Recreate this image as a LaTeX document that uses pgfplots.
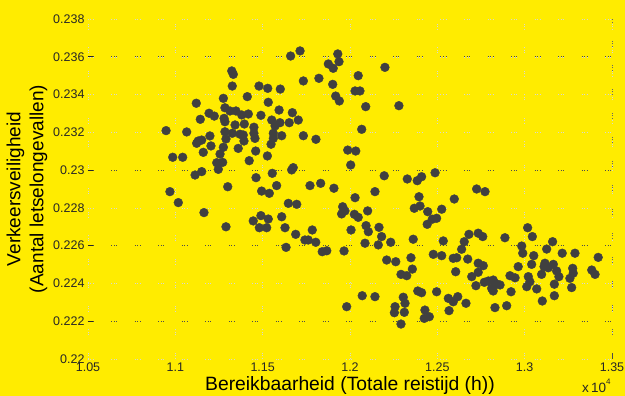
\documentclass[border=0pt]{standalone}
\usepackage{fontspec}
\setmainfont{Liberation Sans}
\usepackage{pgfplots}
\usepackage{pgfplotstable}
\pgfplotsset{compat=1.18}
\definecolor{bg}{HTML}{FFEC00}
\definecolor{dot}{HTML}{404040}
\pgfplotstableread{
x y
1.1660 0.23604
1.1714 0.23631
1.1323 0.23525
1.1332 0.23507
1.1326 0.23445
1.1479 0.23445
1.1529 0.23433
1.1601 0.23429
1.1733 0.23472
1.1275 0.23380
1.1412 0.23389
1.1120 0.23354
1.1532 0.23359
1.1284 0.23330
1.1594 0.23318
1.1670 0.23304
1.1193 0.23301
1.1223 0.23286
1.1313 0.23313
1.1347 0.23313
1.1380 0.23292
1.1418 0.23297
1.1490 0.23290
1.1143 0.23269
1.1279 0.23274
1.1284 0.23256
1.1552 0.23265
1.1599 0.23251
1.1652 0.23251
1.1704 0.23265
1.1342 0.23239
1.1395 0.23244
1.1450 0.23227
1.1571 0.23234
1.0947 0.23209
1.1065 0.23202
1.1284 0.23203
1.1326 0.23195
1.1370 0.23190
1.1389 0.23186
1.1450 0.23195
1.1561 0.23195
1.1609 0.23182
1.1733 0.23182
1.1198 0.23181
1.1290 0.23165
1.1393 0.23154
1.1456 0.23168
1.1561 0.23168
1.1131 0.23154
1.1151 0.23159
1.1122 0.23142
1.1204 0.23128
1.1275 0.23121
1.1360 0.23115
1.1548 0.23137
1.1160 0.23094
1.1256 0.23085
1.1460 0.23101
1.1527 0.23075
1.0985 0.23068
1.1042 0.23068
1.1237 0.23039
1.1271 0.23041
1.1423 0.23050
1.1246 0.23004
1.1675 0.23013
1.1666 0.23001
1.1113 0.22974
1.1151 0.22992
1.1462 0.22960
1.1555 0.22983
1.1300 0.22912
1.1580 0.22918
1.0969 0.22886
1.1494 0.22889
1.1538 0.22877
1.1930 0.23615
1.1876 0.23562
1.1904 0.23539
1.1937 0.23574
1.2200 0.23544
1.2047 0.23500
1.1822 0.23486
1.1901 0.23454
1.2029 0.23419
1.2057 0.23419
1.1918 0.23392
1.1939 0.23366
1.2090 0.23336
1.2280 0.23341
1.2067 0.23216
1.1805 0.23163
1.1987 0.23106
1.2033 0.23101
1.2004 0.23027
1.1771 0.22918
1.1832 0.22930
1.1908 0.22904
1.2196 0.22970
1.2328 0.22953
1.2385 0.22944
1.2410 0.22965
1.2487 0.22986
1.2143 0.22886
1.2725 0.22900
1.2773 0.22886
1.1017 0.22828
1.1164 0.22775
1.1290 0.22700
1.1446 0.22731
1.1490 0.22759
1.1532 0.22741
1.1481 0.22695
1.1523 0.22695
1.1609 0.22753
1.1647 0.22824
1.1695 0.22819
1.1628 0.22695
1.1689 0.22660
1.1634 0.22591
1.1742 0.22630
1.2029 0.22854
1.1958 0.22806
1.1952 0.22768
1.1971 0.22784
1.2025 0.22766
1.2047 0.22750
1.2101 0.22784
1.2395 0.22859
1.2368 0.22798
1.2401 0.22810
1.2445 0.22780
1.2525 0.22793
1.2471 0.22740
1.2496 0.22745
1.2442 0.22713
1.1784 0.22683
1.2006 0.22683
1.2092 0.22706
1.2105 0.22674
1.2166 0.22697
1.1761 0.22630
1.1804 0.22618
1.1841 0.22568
1.1867 0.22573
1.1966 0.22572
1.2086 0.22613
1.2181 0.22648
1.2162 0.22604
1.2233 0.22618
1.2362 0.22634
1.2534 0.22625
1.2477 0.22554
1.2525 0.22547
1.2210 0.22524
1.2262 0.22515
1.2349 0.22536
1.2357 0.22476
1.2292 0.22448
1.2325 0.22441
1.2070 0.22335
1.2143 0.22330
1.1981 0.22277
1.2388 0.22360
1.2410 0.22351
1.2496 0.22356
1.2305 0.22327
1.2315 0.22295
1.2258 0.22277
1.2254 0.22245
1.2311 0.22247
1.2429 0.22259
1.2425 0.22215
1.2454 0.22224
1.2292 0.22185
1.2597 0.22847
1.3017 0.22695
1.3044 0.22648
1.2887 0.22642
1.2734 0.22666
1.2760 0.22648
1.2681 0.22660
1.2654 0.22621
1.2639 0.22581
1.2591 0.22533
1.2611 0.22536
1.2674 0.22529
1.2983 0.22598
1.2989 0.22560
1.3126 0.22582
1.3160 0.22621
1.3215 0.22560
1.3288 0.22560
1.3421 0.22538
1.3052 0.22547
1.3040 0.22501
1.2734 0.22507
1.2763 0.22494
1.2963 0.22489
1.3116 0.22507
1.3111 0.22489
1.3135 0.22483
1.3164 0.22501
1.2605 0.22462
1.2734 0.22459
1.2697 0.22436
1.2916 0.22441
1.2945 0.22430
1.3021 0.22436
1.3030 0.22409
1.3012 0.22383
1.3097 0.22448
1.3183 0.22466
1.3196 0.22436
1.3275 0.22480
1.3278 0.22454
1.3259 0.22427
1.3384 0.22471
1.3403 0.22448
1.2792 0.22413
1.2820 0.22418
1.2840 0.22397
1.2859 0.22392
1.2811 0.22374
1.2820 0.22360
1.2769 0.22406
1.2721 0.22388
1.2922 0.22356
1.3069 0.22371
1.3170 0.22396
1.3269 0.22378
1.3170 0.22335
1.2563 0.22321
1.2591 0.22303
1.2617 0.22330
1.2664 0.22295
1.2567 0.22256
1.3101 0.22307
1.2830 0.22272
1.2897 0.22282
}\pts
\begin{document}
\begin{tikzpicture}
\path[use as bounding box, fill=bg] (-88pt,-37pt) rectangle (537pt,359pt);
\begin{axis}[
  at={(0,0)}, anchor=south west, scale only axis,
  width=524pt, height=340pt,
  xmin=1.05, xmax=1.35, ymin=0.22, ymax=0.238,
  axis line style={draw=none},
  xtick={1.05,1.1,1.15,1.2,1.25,1.3,1.35},
  xticklabels={1.05,1.1,1.15,1.2,1.25,1.3,1.35},
  ytick={0.22,0.222,0.224,0.226,0.228,0.23,0.232,0.234,0.236,0.238},
  yticklabels={0.22,0.222,0.224,0.226,0.228,0.23,0.232,0.234,0.236,0.238},
  xtick pos=bottom, ytick pos=left,
  major tick length=0pt,
  tick label style={font=\fontsize{12.5}{14}\selectfont, text=black!85},
  grid=major,
  major grid style={black!16, line width=0.5pt, dash pattern=on 1pt off 1.5pt on 1pt off 1.5pt on 1pt off 17.5pt},
  extra y ticks={0.222,0.226,0.23,0.236},
  extra y tick labels={},
  extra y tick style={grid=major, major tick length=5pt, tick align=inside,
     tick style={black!85, line width=0.8pt},
     major grid style={black!70, line width=0.7pt, dash pattern=on 1pt off 1.5pt on 1pt off 1.5pt on 1pt off 17.5pt}},
  extra x ticks={1.35},
  extra x tick labels={},
  extra x tick style={grid=major, major tick length=6pt, tick align=inside,
     tick style={black!70, line width=0.6pt},
     major grid style={black!60, line width=0.7pt, dash pattern=on 1pt off 1.5pt on 1pt off 1.5pt on 1pt off 18pt}},
  xlabel={Bereikbaarheid (Totale reistijd (h))},
  xlabel style={font=\fontsize{19.3}{22}\selectfont, at={(axis description cs:0.5,-0.0941)}, anchor=base},
  ylabel={Verkeersveiligheid\\(Aantal letselongevallen)},
  ylabel style={font=\fontsize{19}{23}\selectfont, align=center, at={(axis description cs:-0.1164,0.5)}, anchor=center},
  clip=false,
]
\addplot[only marks, mark=*, mark size=4.4pt, mark options={draw=dot, fill=dot}] table[x=x, y=y] {\pts};
\end{axis}
\node[anchor=base west, font=\fontsize{13.5}{15}\selectfont, text=black!85, inner sep=0pt] at (494pt,-34pt) {x\,10\raisebox{0.6em}{\fontsize{8}{9}\selectfont 4}};
\end{tikzpicture}
\end{document}
